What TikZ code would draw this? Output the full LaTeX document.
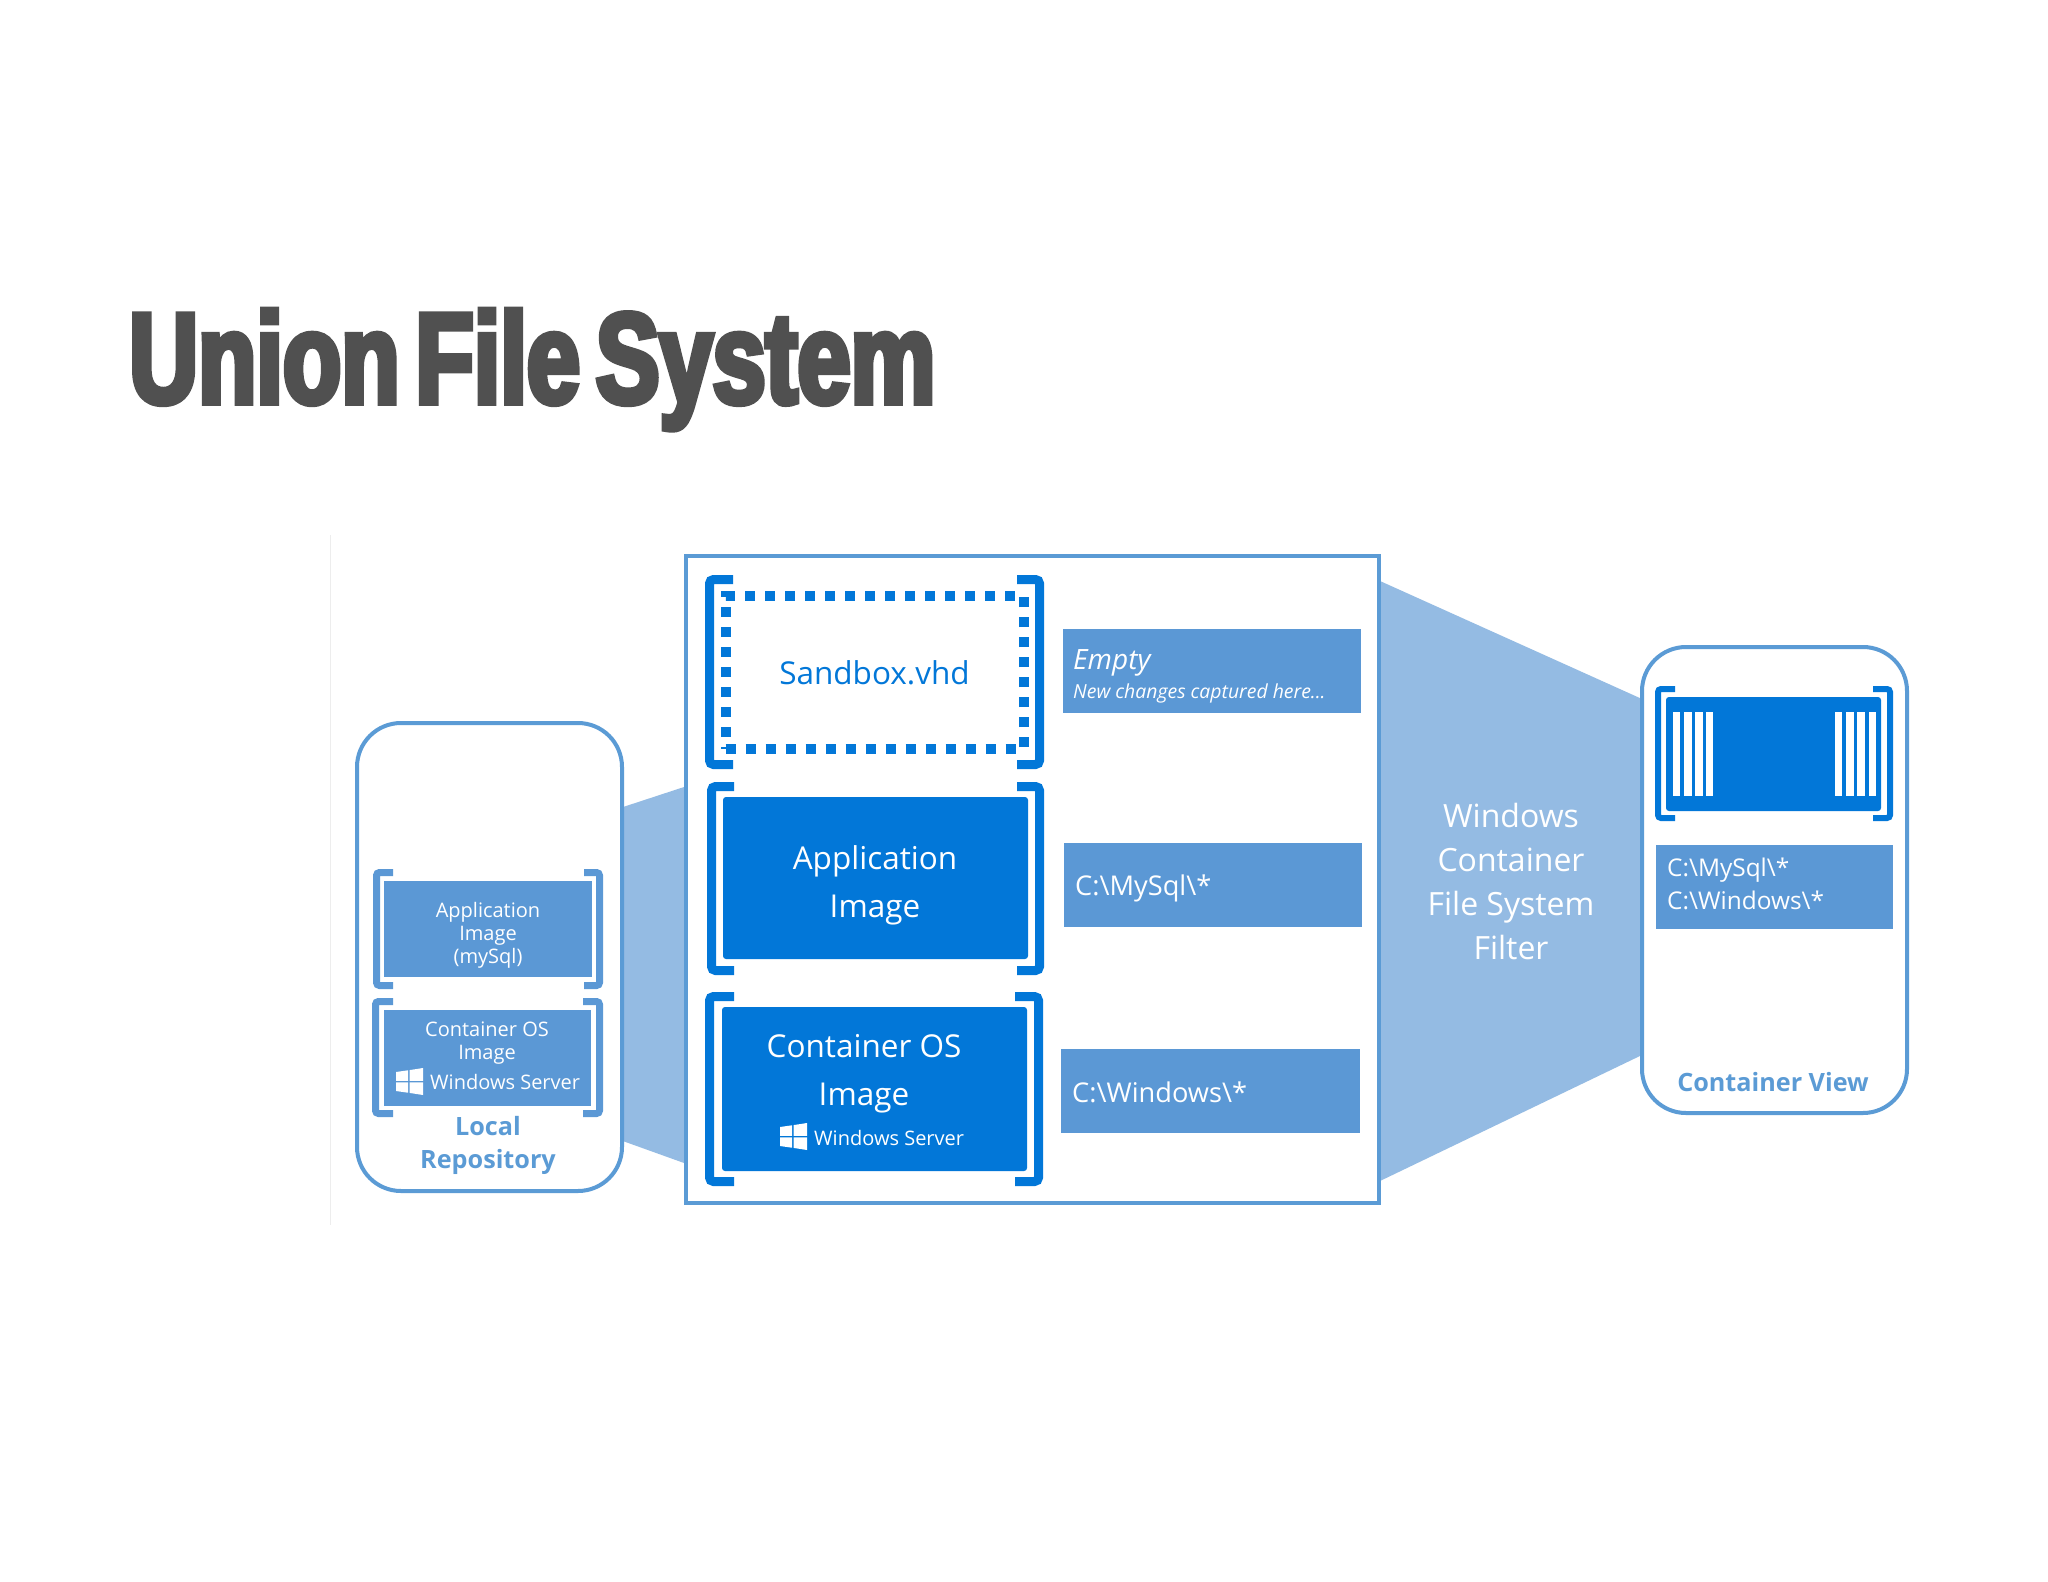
\documentclass[tikz,border=0pt]{standalone}
\usepackage{fontspec}
\usepackage{xcolor}
\usepackage{tikz}
\setmainfont{Open Sans}
\newfontfamily\titlefont[FakeStretch=0.74,FakeBold=4.5,WordSpace=0.6]{Liberation Sans Bold}
\definecolor{deepblue}{HTML}{0277D8}
\definecolor{midblue}{HTML}{5B98D5}
\definecolor{lineblue}{HTML}{5B9BD5}
\definecolor{lightblue}{HTML}{94BBE3}
\definecolor{titlegray}{HTML}{505050}
\tikzstyle{wedge}     = [fill=lightblue]
\tikzstyle{repo}      = [draw=lineblue, line width=4pt, fill=white, rounded corners=44pt]
\tikzstyle{bigbrk}    = [draw=deepblue, line width=9pt, rounded corners=4pt]
\tikzstyle{smallbrk}  = [draw=midblue, line width=7pt, rounded corners=3pt]
\tikzstyle{tinybrk}   = [draw=deepblue, line width=6pt, rounded corners=3pt]
\tikzstyle{deepbox}   = [fill=deepblue, rounded corners=3pt, inner sep=0pt, outer sep=0pt]
\tikzstyle{midbox}    = [fill=midblue, inner sep=0pt, outer sep=0pt]
\tikzstyle{bigtext}   = [text=white, align=center, inner sep=0pt, font=\fontsize{31.5}{48}\selectfont]
\tikzstyle{smalltext} = [text=white, align=center, inner sep=0pt, font=\fontsize{20}{23}\selectfont]
\tikzstyle{pathtext}  = [text=white, anchor=west, inner sep=0pt, font=\fontsize{27.2}{32}\selectfont]
\tikzstyle{bluehead}  = [text=lineblue, align=center, inner sep=0pt, font=\fontsize{25.2}{33}\selectfont\bfseries]
\newcommand{\winlogo}[3]{
	\begin{scope}[shift={(#1,#2)}, scale=#3]
		\fill[white] (0,4) -- (12,2.3) -- (12,12.8) -- (0,12.8) -- cycle;
		\fill[white] (13.5,2.1) -- (27,0) -- (27,12.8) -- (13.5,12.8) -- cycle;
		\fill[white] (0,14.4) -- (12,14.4) -- (12,24.7) -- (0,23) -- cycle;
		\fill[white] (13.5,14.4) -- (27,14.4) -- (27,27) -- (13.5,24.9) -- cycle;
	\end{scope}
}

\begin{document}
\begin{tikzpicture}[x=1pt,y=-1pt]
		\useasboundingbox (0,0) rectangle (2048,1582);
		\fill[white] (0,0) rectangle (2048,1582);

		\node[inner sep=0pt, anchor=base west, text=titlegray, font=\fontsize{129}{130}\titlefont] (title) at (129,403) {Union File System};

		\draw[black!7, line width=1pt] (330,535) -- (330,1225);

		\fill[wedge] (620,808) -- (684,787) -- (684,1163) -- (620,1140) -- cycle;
		\fill[wedge] (1380,581) -- (1642,699) -- (1642,1055) -- (1380,1181) -- cycle;

		\draw[repo] (357,723) rectangle (622,1191);
		\draw[repo] (1642,647) rectangle (1907,1113);
		\draw[draw=lineblue, line width=4pt] (686,556) rectangle (1379,1203);

		\draw[smallbrk] (393,872.5) -- (376.5,872.5) -- (376.5,985.5) -- (393,985.5);
		\draw[smallbrk] (584,872.5) -- (599.5,872.5) -- (599.5,985.5) -- (584,985.5);
		\draw[smallbrk] (393,1001.5) -- (375.5,1001.5) -- (375.5,1113.5) -- (393,1113.5);
		\draw[smallbrk] (583,1001.5) -- (599.5,1001.5) -- (599.5,1113.5) -- (583,1113.5);
		\node[midbox, minimum width=208pt, minimum height=96pt] (localapp) at (488,929) {};
		\node[midbox, minimum width=207pt, minimum height=96pt] (localos) at (487.5,1058) {};
		\node[smalltext] (localapptext) at (488,935.5) {Application\\Image\\(mySql)};
		\node[smalltext] (localostext) at (487,1043) {Container OS\\Image};
		\winlogo{396}{1068}{1}
		\node[smalltext, anchor=west] (localserver) at (430,1082) {Windows Server};
		\node[bluehead] (localtext) at (488,1145) {Local\\Repository};

		\draw[bigbrk] (733,579.5) -- (709.5,579.5) -- (709.5,764.5) -- (733,764.5);
		\draw[bigbrk] (1017,579.5) -- (1039.5,579.5) -- (1039.5,764.5) -- (1017,764.5);
		\draw[bigbrk] (734,786.5) -- (711.5,786.5) -- (711.5,970.5) -- (734,970.5);
		\draw[bigbrk] (1017,786.5) -- (1039.5,786.5) -- (1039.5,970.5) -- (1017,970.5);
		\draw[bigbrk] (734,996.5) -- (709.5,996.5) -- (709.5,1181.5) -- (734,1181.5);
		\draw[bigbrk] (1015,996.5) -- (1038.5,996.5) -- (1038.5,1181.5) -- (1015,1181.5);

		\node[draw=deepblue, line width=10pt, dash pattern=on 10pt off 10pt, minimum width=298pt, minimum height=153pt, inner sep=0pt, text=deepblue, font=\fontsize{31.5}{38}\selectfont] (sandbox) at (874.5,672.5) {Sandbox.vhd};
		\node[deepbox, minimum width=305pt, minimum height=162pt] (appimage) at (875.5,878) {};
		\node[deepbox, minimum width=305pt, minimum height=164pt] (osimage) at (874.5,1089) {};
		\node[bigtext] (appimagetext) at (875,885) {Application\\Image};
		\node[bigtext] (osimagetext) at (864,1073.5) {Container OS\\Image};
		\winlogo{780}{1123}{1}
		\node[smalltext, anchor=west] (osserver) at (814,1138) {Windows Server};

		\node[midbox, minimum width=298pt, minimum height=84pt] (emptybox) at (1212,671) {};
		\node[midbox, minimum width=298pt, minimum height=84pt] (mysqlbox) at (1213,885) {};
		\node[midbox, minimum width=299pt, minimum height=84pt] (windowsbox) at (1210.5,1091) {};
		\node[pathtext, font=\fontsize{28}{33}\selectfont\itshape] (emptytext) at (1073,663) {Empty};
		\node[pathtext, font=\fontsize{19.4}{24}\selectfont\itshape] (newtext) at (1073,693) {New changes captured here...};
		\node[pathtext] (mysqltext) at (1075,888) {C:\textbackslash MySql\textbackslash *};
		\node[pathtext] (windowstext) at (1072,1092) {C:\textbackslash Windows\textbackslash *};

		\node[text=white, align=center, inner sep=0pt, font=\fontsize{32}{44}\selectfont] (filtertext) at (1511,881.5) {Windows\\Container\\File System\\Filter};

		\draw[tinybrk] (1675,689) -- (1658,689) -- (1658,818) -- (1675,818);
		\draw[tinybrk] (1873,689) -- (1890,689) -- (1890,818) -- (1873,818);
		\node[deepbox, minimum width=215pt, minimum height=114pt] (viewbox) at (1773.5,754) {};
		\fill[white] (1672.5,712) rectangle (1680,796);
		\fill[white] (1684,712) rectangle (1691.5,796);
		\fill[white] (1695,712) rectangle (1702.5,796);
		\fill[white] (1705.5,712) rectangle (1713,796);
		\fill[white] (1834.5,712) rectangle (1842,796);
		\fill[white] (1846,712) rectangle (1853.5,796);
		\fill[white] (1857,712) rectangle (1864.5,796);
		\fill[white] (1868.5,712) rectangle (1876,796);
		\node[midbox, minimum width=237pt, minimum height=84pt] (viewpaths) at (1774.5,887) {};
		\node[pathtext, font=\fontsize{24.4}{32.5}\selectfont, align=left] (viewtext) at (1667,884) {C:\textbackslash MySql\textbackslash *\\C:\textbackslash Windows\textbackslash *};
		\node[bluehead] (viewlabel) at (1773,1082.5) {Container View};
\end{tikzpicture}
\end{document}
